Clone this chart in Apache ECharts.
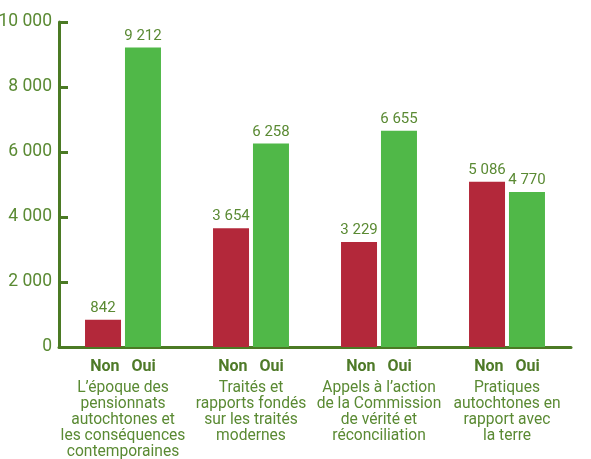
<!DOCTYPE html>
<html>
<head>
<meta charset="utf-8">
<script src="https://cdn.jsdelivr.net/npm/echarts@6/dist/echarts.min.js"></script>
<style>html,body{margin:0;padding:0;background:#fff}#c{width:591px;height:459px}</style>
</head>
<body>
<div id="c"></div>
<script>
const categories = [
  ["L’époque des", "pensionnats", "autochtones et", "les conséquences", "contemporaines"],
  ["Traités et", "rapports fondés", "sur les traités", "modernes"],
  ["Appels à l’action", "de la Commission", "de vérité et", "réconciliation"],
  ["Pratiques", "autochtones en", "rapport avec", "la terre"]
];
const seriesNames = ["Non", "Oui"];
const nonValues = [842, 3654, 3229, 5086];
const ouiValues = [9212, 6258, 6655, 4770];
const yTicks = [0, 2000, 4000, 6000, 8000, 10000];

const fmt = v => String(v).replace(/\B(?=(\d{3})+(?!\d))/g, ' ');
const textColor = '#5a8a33';
const axisColor = '#4b7a24';
const font = 'Roboto, "Noto Sans", sans-serif';

const chart = echarts.init(document.getElementById('c'));
chart.setOption({
  animation: false,
  grid: { left: 59, right: 20, top: 22, bottom: 112, containLabel: false, outerBoundsMode: 'none' },
  xAxis: {
    type: 'category',
    data: categories.map((c, i) => String(i)),
    axisLine: { lineStyle: { color: axisColor, width: 3 } },
    axisTick: { show: false },
    axisLabel: {
      interval: 0,
      margin: 15,
      formatter: (v) => {
        const lines = categories[+v];
        return '{b|' + seriesNames[0] + '}{s| }{b|' + seriesNames[1] + '}\n' +
          lines.map(l => '{d|' + l + '}').join('\n');
      },
      rich: {
        b: { fontFamily: font, fontSize: 16, fontWeight: 'bold', color: '#4e7a28', lineHeight: 18, padding: [0, 0, 9, 0] },
        s: { width: 12, fontSize: 16 },
        d: { fontFamily: font, fontSize: 15.6, color: textColor, lineHeight: 16 }
      }
    }
  },
  yAxis: {
    type: 'value',
    min: 0,
    max: 10000,
    interval: 2000,
    splitLine: { show: false },
    axisLine: { show: true, lineStyle: { color: axisColor, width: 3 } },
    axisTick: { show: true, inside: true, length: 9, lineStyle: { color: axisColor, width: 3 } },
    axisLabel: {
      margin: 7,
      fontFamily: font,
      fontSize: 17.5,
      color: textColor,
      formatter: v => yTicks.includes(v) ? fmt(v) : ''
    }
  },
  series: [
    {
      name: seriesNames[0],
      type: 'bar',
      data: nonValues,
      barWidth: 36,
      barGap: '11%',
      itemStyle: { color: '#b3283a' },
      label: { show: true, position: 'top', distance: 4, fontFamily: font, fontSize: 15, color: textColor, formatter: p => fmt(p.value) }
    },
    {
      name: seriesNames[1],
      type: 'bar',
      data: ouiValues,
      barWidth: 36,
      barGap: '11%',
      itemStyle: { color: '#50b848' },
      label: { show: true, position: 'top', distance: 4, fontFamily: font, fontSize: 15, color: textColor, formatter: p => fmt(p.value) }
    }
  ]
});
</script>
</body>
</html>
